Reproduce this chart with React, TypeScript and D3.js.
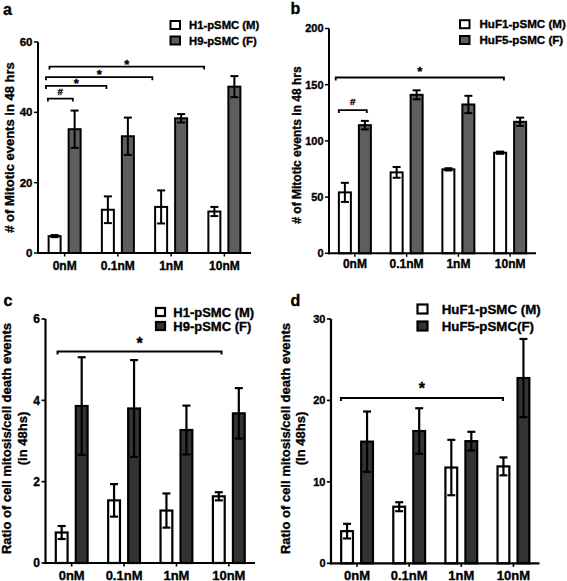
import React from "react";
import * as d3 from "d3";

const categories = ["0nM", "0.1nM", "1nM", "10nM"];

// Panel a
const aMaleMean = [4.8, 12.3, 13.1, 11.8];
const aMaleErr = [0.3, 3.8, 4.7, 1.3];
const aFemaleMean = [35.2, 33.2, 38.3, 47.3];
const aFemaleErr = [5.3, 5.3, 1.2, 3.0];
const aTicks = [0, 20, 40, 60];
const aSeries = ["H1-pSMC (M)", "H9-pSMC (F)"];
const aBrackets = [
  { from: -0.315, to: 0.154, y: 43.9, label: "#" },
  { from: -0.35, to: 0.784, y: 47.5, label: "*" },
  { from: -0.35, to: 1.647, y: 50, label: "*" },
  { from: -0.285, to: 2.62, y: 53, label: "*" },
];

// Panel b
const bMaleMean = [54.2, 72, 74.7, 89.5];
const bMaleErr = [8.5, 4.8, 1.0, 1.0];
const bFemaleMean = [114, 141, 132.4, 117];
const bFemaleErr = [3.8, 4, 7.7, 3.7];
const bTicks = [0, 50, 100, 150, 200];
const bSeries = ["HuF1-pSMC (M)", "HuF5-pSMC (F)"];
const bBrackets = [
  { from: -0.31, to: 0.23, y: 127.4, label: "#" },
  { from: -0.37, to: 2.88, y: 156.4, label: "*" },
];

// Panel c
const cMaleMean = [0.75, 1.54, 1.29, 1.64];
const cMaleErr = [0.16, 0.4, 0.42, 0.1];
const cFemaleMean = [3.86, 3.8, 3.27, 3.68];
const cFemaleErr = [1.2, 1.19, 0.6, 0.62];
const cTicks = [0, 2, 4, 6];
const cSeries = ["H1-pSMC (M)", "H9-pSMC (F)"];
const cBrackets = [{ from: -0.27, to: 2.86, y: 5.2, label: "*" }];

// Panel d
const dMaleMean = [3.95, 6.95, 11.76, 11.9];
const dMaleErr = [0.9, 0.55, 3.4, 1.1];
const dFemaleMean = [14.94, 16.24, 15.0, 22.75];
const dFemaleErr = [3.7, 2.8, 1.15, 4.8];
const dTicks = [0, 10, 20, 30];
const dSeries = ["HuF1-pSMC (M)", "HuF5-pSMC(F)"];
const dBrackets = [{ from: -0.31, to: 2.8, y: 20.3, label: "*" }];

const FONT = "'Liberation Sans', Arial, Helvetica, sans-serif";

type Bracket = { from: number; to: number; y: number; label: string };

type PanelProps = {
  letter: string;
  letterPos: [number, number];
  x0: number;
  x1: number;
  y0: number;
  y1: number;
  max: number;
  ticks: number[];
  male: number[];
  maleErr: number[];
  female: number[];
  femaleErr: number[];
  series: string[];
  brackets: Bracket[];
  fill: string;
  yLabel: string[];
  yLabelX: number[];
  yLabelCy: number;
  yLabelSize: number;
  tickSize: number;
  catSize: number;
  catBaseline: number;
  legendX: number;
  legendTextX: number;
  legendY: number[];
  legendBox: [number, number];
  legendSize: number;
  markSize: number;
  markOffset: number;
  hashOffset: number;
  stroke: number;
};

const T = { stroke: "#000", strokeWidth: 0.35 } as const;

function Panel(p: PanelProps) {
  const xBand = d3.scaleBand<string>().domain(categories).range([p.x0, p.x1]).padding(0);
  const y = d3.scaleLinear().domain([0, p.max]).range([p.y0, p.y1]);
  const center = (c: string) => (xBand(c) as number) + xBand.bandwidth() / 2;
  const idx = d3
    .scaleLinear()
    .domain([0, categories.length - 1])
    .range([center(categories[0]), center(categories[categories.length - 1])]);
  const sw = p.stroke;
  const barW = 14;
  const gap = 3;
  const cap = 4;

  const bars: any[] = [];
  categories.forEach((c, i) => {
    const cx = center(c);
    const groups = [
      { v: p.male[i], e: p.maleErr[i], left: cx - gap - barW, fill: "#ffffff" },
      { v: p.female[i], e: p.femaleErr[i], left: cx + gap, fill: p.fill },
    ];
    groups.forEach((g, j) => {
      const bx = g.left + sw / 2;
      const bw = barW - sw;
      const mid = g.left + barW / 2;
      bars.push(
        <g key={`${c}-${j}`}>
          <rect
            x={bx}
            y={y(g.v)}
            width={bw}
            height={y(0) - y(g.v)}
            fill={g.fill}
            stroke="#000"
            strokeWidth={sw}
          />
          <line x1={mid} x2={mid} y1={y(g.v + g.e)} y2={y(g.v - g.e)} stroke="#000" strokeWidth={sw} />
          <line x1={mid - cap} x2={mid + cap} y1={y(g.v + g.e)} y2={y(g.v + g.e)} stroke="#000" strokeWidth={sw} />
          <line x1={mid - cap} x2={mid + cap} y1={y(g.v - g.e)} y2={y(g.v - g.e)} stroke="#000" strokeWidth={sw} />
        </g>
      );
    });
  });

  return (
    <g fontFamily={FONT} fontWeight="bold">
      <text x={p.letterPos[0]} y={p.letterPos[1]} fontSize={16} {...T}>
        {p.letter}
      </text>
      {p.yLabel.map((t, i) => (
        <text
          key={i}
          transform={`translate(${p.yLabelX[i]},${p.yLabelCy}) rotate(-90)`}
          textAnchor="middle"
          fontSize={p.yLabelSize}
          {...T}
        >
          {t}
        </text>
      ))}
      {bars}
      <line x1={p.x0} x2={p.x0} y1={p.y1} y2={p.y0 + sw / 2} stroke="#000" strokeWidth={sw} />
      <line x1={p.x0 - sw / 2} x2={p.x1} y1={p.y0} y2={p.y0} stroke="#000" strokeWidth={sw} />
      {p.ticks.map((t) => (
        <g key={t}>
          <line x1={p.x0 - 4} x2={p.x0} y1={y(t)} y2={y(t)} stroke="#000" strokeWidth={sw * 0.75} />
          <text x={p.x0 - 5.5} y={y(t) + p.tickSize * 0.36} textAnchor="end" fontSize={p.tickSize} {...T}>
            {t}
          </text>
        </g>
      ))}
      {categories.map((c) => (
        <g key={c}>
          <line x1={center(c)} x2={center(c)} y1={p.y0} y2={p.y0 + 3.5} stroke="#000" strokeWidth={sw * 0.75} />
          <text x={center(c)} y={p.catBaseline} textAnchor="middle" fontSize={p.catSize} {...T}>
            {c}
          </text>
        </g>
      ))}
      {p.brackets.map((b, i) => {
        const xa = idx(b.from);
        const xb = idx(b.to);
        const yy = y(b.y);
        const isHash = b.label === "#";
        return (
          <g key={i}>
            <path
              d={`M${xa},${yy + 3}V${yy}H${xb}V${yy + 3}`}
              fill="none"
              stroke="#000"
              strokeWidth={sw * 0.9}
            />
            <text
              x={(xa + xb) / 2}
              y={yy - (isHash ? p.hashOffset : p.markOffset)}
              textAnchor="middle"
              fontSize={isHash ? p.markSize * 0.75 : p.markSize}
              {...T}
            >
              {b.label}
            </text>
          </g>
        );
      })}
      {p.series.map((s, i) => (
        <g key={s}>
          <rect
            x={p.legendX}
            y={p.legendY[i] - p.legendBox[1] / 2}
            width={p.legendBox[0]}
            height={p.legendBox[1]}
            fill={i === 0 ? "#ffffff" : p.fill}
            stroke="#000"
            strokeWidth={sw}
          />
          <text x={p.legendTextX} y={p.legendY[i] + p.legendSize * 0.36} fontSize={p.legendSize} {...T}>
            {s}
          </text>
        </g>
      ))}
    </g>
  );
}

export default function App() {
  return (
    <svg
      width={567}
      height={581}
      style={{ position: "absolute", left: 0, top: 0, background: "#fff" }}
    >
      <Panel
        letter="a"
        letterPos={[3, 15]}
        x0={38}
        x1={251}
        y0={253}
        y1={42}
        max={60}
        ticks={aTicks}
        male={aMaleMean}
        maleErr={aMaleErr}
        female={aFemaleMean}
        femaleErr={aFemaleErr}
        series={aSeries}
        brackets={aBrackets}
        fill="#5e5e5e"
        yLabel={["# of Mitotic events in 48 hrs"]}
        yLabelX={[14]}
        yLabelCy={147.5}
        yLabelSize={13}
        tickSize={11.5}
        catSize={12}
        catBaseline={269.5}
        legendX={170.5}
        legendTextX={189}
        legendY={[25, 40.5]}
        legendBox={[9.5, 8]}
        legendSize={11.3}
        markSize={13}
        markOffset={-2}
        hashOffset={4}
        stroke={2}
      />
      <Panel
        letter="b"
        letterPos={[290.5, 14]}
        x0={329}
        x1={536}
        y0={253.3}
        y1={28.5}
        max={200}
        ticks={bTicks}
        male={bMaleMean}
        maleErr={bMaleErr}
        female={bFemaleMean}
        femaleErr={bFemaleErr}
        series={bSeries}
        brackets={bBrackets}
        fill="#5e5e5e"
        yLabel={["# of Mitotic events in 48 hrs"]}
        yLabelX={[301.2]}
        yLabelCy={145}
        yLabelSize={12}
        tickSize={11}
        catSize={12}
        catBaseline={268}
        legendX={460}
        legendTextX={479.5}
        legendY={[24.2, 40]}
        legendBox={[9.5, 8]}
        legendSize={11.6}
        markSize={13}
        markOffset={2}
        hashOffset={5}
        stroke={2}
      />
      <Panel
        letter="c"
        letterPos={[3.5, 306]}
        x0={45.5}
        x1={255}
        y0={563}
        y1={319}
        max={6}
        ticks={cTicks}
        male={cMaleMean}
        maleErr={cMaleErr}
        female={cFemaleMean}
        femaleErr={cFemaleErr}
        series={cSeries}
        brackets={cBrackets}
        fill="#333333"
        yLabel={["Ratio of cell mitosis/cell death events", "(in 48hs)"]}
        yLabelX={[11, 26.5]}
        yLabelCy={438.5}
        yLabelSize={13}
        tickSize={12}
        catSize={13}
        catBaseline={579.5}
        legendX={156}
        legendTextX={173.3}
        legendY={[312, 326]}
        legendBox={[9, 8]}
        legendSize={13}
        markSize={16}
        markOffset={3}
        hashOffset={5}
        stroke={2.2}
      />
      <Panel
        letter="d"
        letterPos={[290.5, 306]}
        x0={331}
        x1={539.5}
        y0={563.3}
        y1={319}
        max={30}
        ticks={dTicks}
        male={dMaleMean}
        maleErr={dMaleErr}
        female={dFemaleMean}
        femaleErr={dFemaleErr}
        series={dSeries}
        brackets={dBrackets}
        fill="#333333"
        yLabel={["Ratio of cell mitosis/cell death events", "(In 48hs)"]}
        yLabelX={[289.8, 305.3]}
        yLabelCy={438.5}
        yLabelSize={13}
        tickSize={11}
        catSize={13}
        catBaseline={579.5}
        legendX={417.5}
        legendTextX={441.7}
        legendY={[309, 326]}
        legendBox={[10, 9]}
        legendSize={13.3}
        markSize={16}
        markOffset={4}
        hashOffset={5}
        stroke={2.2}
      />
    </svg>
  );
}
